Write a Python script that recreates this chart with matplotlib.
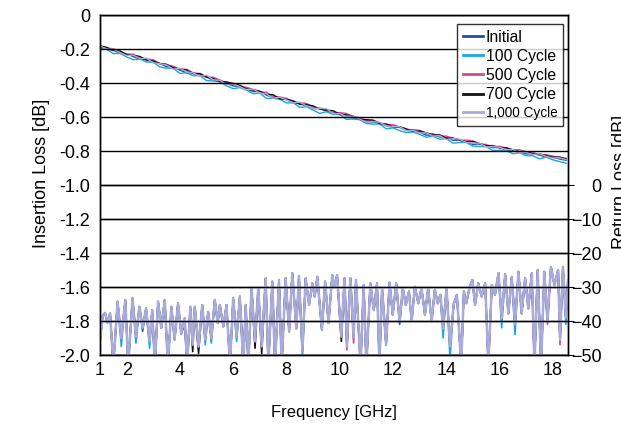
import numpy as np
import matplotlib.pyplot as plt

plt.rcParams['font.family'] = ['Liberation Sans', 'DejaVu Sans']

# insertion loss, sampled every 0.25 GHz from 1 to 18.5 GHz
il_freq = np.linspace(1.0, 18.5, 71)

il_initial = [
    -0.186, -0.200, -0.206, -0.226, -0.229, -0.244, -0.261, -0.261, -0.280, -0.286,
    -0.304, -0.305, -0.324, -0.340, -0.341, -0.357, -0.364, -0.384, -0.385, -0.403,
    -0.417, -0.420, -0.434, -0.450, -0.451, -0.471, -0.487, -0.489, -0.498, -0.518,
    -0.521, -0.536, -0.551, -0.550, -0.564, -0.578, -0.576, -0.597, -0.604, -0.609,
    -0.628, -0.629, -0.635, -0.652, -0.660, -0.661, -0.679, -0.683, -0.689, -0.707,
    -0.706, -0.717, -0.720, -0.737, -0.737, -0.749, -0.761, -0.758, -0.769, -0.780,
    -0.779, -0.795, -0.796, -0.806, -0.817, -0.816, -0.824, -0.836, -0.836, -0.847,
    -0.855]
il_100 = [
    -0.197, -0.201, -0.227, -0.226, -0.246, -0.263, -0.259, -0.277, -0.277, -0.306,
    -0.313, -0.313, -0.344, -0.339, -0.357, -0.357, -0.386, -0.388, -0.393, -0.417,
    -0.433, -0.427, -0.442, -0.463, -0.459, -0.491, -0.490, -0.496, -0.517, -0.516,
    -0.543, -0.540, -0.559, -0.579, -0.569, -0.585, -0.586, -0.614, -0.612, -0.616,
    -0.638, -0.642, -0.641, -0.670, -0.664, -0.680, -0.692, -0.688, -0.702, -0.719,
    -0.713, -0.731, -0.727, -0.754, -0.750, -0.749, -0.772, -0.773, -0.774, -0.797,
    -0.796, -0.796, -0.816, -0.811, -0.827, -0.828, -0.846, -0.836, -0.852, -0.862,
    -0.872]
il_500 = [
    -0.179, -0.195, -0.199, -0.214, -0.230, -0.231, -0.251, -0.257, -0.264, -0.287,
    -0.293, -0.301, -0.322, -0.319, -0.340, -0.347, -0.365, -0.366, -0.382, -0.398,
    -0.401, -0.423, -0.425, -0.439, -0.453, -0.455, -0.479, -0.482, -0.490, -0.511,
    -0.516, -0.520, -0.542, -0.548, -0.554, -0.574, -0.574, -0.579, -0.599, -0.604,
    -0.620, -0.619, -0.633, -0.646, -0.645, -0.659, -0.674, -0.674, -0.678, -0.696,
    -0.699, -0.714, -0.712, -0.725, -0.737, -0.736, -0.740, -0.757, -0.762, -0.775,
    -0.772, -0.782, -0.794, -0.792, -0.807, -0.809, -0.822, -0.821, -0.830, -0.841,
    -0.843]
il_700 = [
    -0.183, -0.190, -0.209, -0.211, -0.233, -0.237, -0.244, -0.266, -0.270, -0.285,
    -0.290, -0.312, -0.316, -0.324, -0.345, -0.344, -0.365, -0.373, -0.392, -0.393,
    -0.405, -0.413, -0.435, -0.440, -0.448, -0.467, -0.469, -0.493, -0.496, -0.505,
    -0.525, -0.527, -0.535, -0.553, -0.560, -0.563, -0.584, -0.587, -0.594, -0.614,
    -0.616, -0.619, -0.639, -0.641, -0.656, -0.657, -0.670, -0.684, -0.683, -0.693,
    -0.706, -0.705, -0.725, -0.724, -0.734, -0.746, -0.745, -0.757, -0.770, -0.768,
    -0.782, -0.781, -0.793, -0.804, -0.803, -0.817, -0.817, -0.827, -0.837, -0.835,
    -0.847]
il_1000 = [
    -0.182, -0.200, -0.202, -0.221, -0.238, -0.236, -0.256, -0.255, -0.281, -0.286,
    -0.294, -0.319, -0.313, -0.334, -0.341, -0.361, -0.354, -0.381, -0.385, -0.408,
    -0.404, -0.422, -0.439, -0.436, -0.459, -0.464, -0.490, -0.484, -0.499, -0.517,
    -0.513, -0.535, -0.550, -0.549, -0.551, -0.580, -0.580, -0.597, -0.594, -0.613,
    -0.629, -0.626, -0.632, -0.651, -0.657, -0.657, -0.680, -0.680, -0.693, -0.693,
    -0.712, -0.710, -0.732, -0.727, -0.731, -0.750, -0.753, -0.754, -0.776, -0.773,
    -0.778, -0.792, -0.791, -0.809, -0.809, -0.821, -0.816, -0.832, -0.841, -0.840,
    -0.851]

# return loss: peaks and dips (1,000 Cycle trace)
rl_freq = [
    1.00, 1.10, 1.19, 1.28, 1.38, 1.50, 1.66, 1.80, 1.95, 2.06,
    2.22, 2.35, 2.48, 2.60, 2.73, 2.86, 2.96, 3.06, 3.18, 3.30,
    3.43, 3.55, 3.68, 3.80, 3.93, 4.05, 4.18, 4.27, 4.39, 4.48,
    4.56, 4.70, 4.84, 4.95, 5.06, 5.18, 5.31, 5.42, 5.50, 5.63,
    5.75, 5.88, 6.00, 6.13, 6.25, 6.38, 6.47, 6.57, 6.69, 6.82,
    6.94, 7.07, 7.22, 7.32, 7.47, 7.57, 7.72, 7.82, 7.97, 8.10,
    8.22, 8.37, 8.47, 8.60, 8.72, 8.85, 8.97, 9.06, 9.16, 9.33,
    9.45, 9.58, 9.72, 9.80, 9.90, 10.06, 10.18, 10.27, 10.40, 10.52,
    10.61, 10.78, 10.90, 11.00, 11.15, 11.28, 11.40, 11.49, 11.59, 11.74,
    11.87, 11.99, 12.12, 12.25, 12.37, 12.48, 12.60, 12.70, 12.82, 12.95,
    13.07, 13.20, 13.32, 13.45, 13.57, 13.68, 13.78, 13.88, 14.01, 14.14,
    14.28, 14.40, 14.56, 14.66, 14.75, 14.88, 14.98, 15.08, 15.20, 15.33,
    15.46, 15.58, 15.71, 15.83, 15.96, 16.08, 16.21, 16.33, 16.46, 16.58,
    16.71, 16.83, 16.96, 17.08, 17.21, 17.31, 17.43, 17.56, 17.68, 17.80,
    17.93, 18.06, 18.20, 18.27, 18.38, 18.49, 18.57]
rl_1000 = [
    -46.0, -38.5, -37.6, -40.5, -37.8, -53.0, -34.3, -45.0, -33.8, -53.0,
    -33.3, -44.6, -35.8, -42.0, -36.3, -46.0, -36.8, -53.0, -34.3, -42.0,
    -33.8, -53.0, -35.8, -45.5, -34.8, -43.7, -39.2, -53.0, -35.8, -47.0,
    -35.8, -47.5, -35.3, -45.5, -37.3, -45.0, -33.8, -40.6, -35.3, -41.6,
    -35.3, -53.0, -33.3, -44.6, -32.8, -53.0, -35.3, -53.0, -30.3, -46.0,
    -30.3, -47.5, -27.4, -53.0, -28.4, -53.0, -27.9, -53.0, -27.4, -43.1,
    -25.9, -42.2, -26.7, -49.0, -27.4, -35.3, -28.9, -32.8, -27.0, -42.6,
    -28.4, -40.6, -26.5, -30.0, -26.5, -44.6, -27.4, -47.5, -27.4, -44.6,
    -27.9, -53.0, -29.4, -53.0, -28.9, -36.8, -28.9, -53.0, -30.3, -47.0,
    -28.7, -38.2, -28.9, -40.1, -30.3, -35.3, -31.3, -40.1, -29.9, -34.8,
    -30.3, -38.2, -30.3, -40.1, -30.8, -34.8, -32.3, -42.2, -30.3, -47.5,
    -35.0, -32.3, -53.0, -31.3, -34.8, -29.9, -27.9, -35.3, -28.9, -32.8,
    -28.9, -53.0, -29.4, -32.3, -25.9, -39.2, -26.2, -37.8, -27.0, -40.9,
    -25.5, -37.8, -27.4, -36.3, -25.9, -53.0, -25.0, -53.0, -25.5, -39.7,
    -24.1, -29.4, -25.0, -45.5, -24.1, -39.0, -28.0]

# the other traces follow 1,000 Cycle except where their dips go deeper
rl_initial_dips = {2.60: -43.0, 12.25: -41.0}
rl_100_dips = {1.80: -47.5, 2.35: -46.5, 2.86: -48.0, 4.95: -47.0, 5.18: -46.5,
               6.13: -46.0, 8.60: -51.0, 13.88: -45.0, 14.14: -51.0,
               16.08: -42.0, 16.58: -44.0, 18.49: -41.0}
rl_500_dips = {10.27: -48.5, 10.52: -46.5, 14.56: -53.0, 17.80: -41.0, 18.27: -47.0}
rl_700_dips = {4.18: -41.0, 4.48: -49.0, 4.70: -49.5, 6.82: -48.0, 7.07: -49.5,
               10.06: -46.0, 17.31: -53.0}

labels = ['Initial', '100 Cycle', '500 Cycle', '700 Cycle', '1,000 Cycle']
colors = ['#1f4ea8', '#1aa6e4', '#d8488c', '#111111', '#a9acd8']


def with_dips(base, dips):
    vals = list(base)
    for i, f in enumerate(rl_freq):
        if f in dips:
            vals[i] = dips[f]
    return vals


il_series = [il_initial, il_100, il_500, il_700, il_1000]
rl_series = [with_dips(rl_1000, rl_initial_dips), with_dips(rl_1000, rl_100_dips),
             with_dips(rl_1000, rl_500_dips), with_dips(rl_1000, rl_700_dips),
             rl_1000]

fig = plt.figure(figsize=(6.21, 4.24), dpi=100)
ax = fig.add_axes([100 / 621, 69 / 424, 468 / 621, 340 / 424])
ax2 = ax.twinx()

handles = []
for vals, lab, col in zip(il_series, labels, colors):
    h, = ax.plot(il_freq, vals, color=col, lw=1.0, label=lab)
    handles.append(h)

for vals, col in zip(rl_series, colors):
    lw = 1.8 if col == colors[-1] else 1.2
    ax2.plot(rl_freq, vals, color=col, lw=lw)

ax.set_xlim(1, 18.57)
ax.set_ylim(-2.0, 0)
yt = np.arange(-2.0, 0.01, 0.2)
ax.set_yticks(yt)
ax.set_yticklabels([f'{v:.1f}' if abs(v) > 1e-9 else '0' for v in yt])
ax.set_xticks([1, 2, 4, 6, 8, 10, 12, 14, 16, 18])
ax.tick_params(axis='both', length=0, labelsize=13)
ax.tick_params(axis='y', pad=7)
ax.tick_params(axis='x', pad=5)

ax2.set_ylim(-50, 50)
ax2.set_yticks([0, -10, -20, -30, -40, -50])
ax2.tick_params(axis='y', length=4, direction='out', labelsize=13, pad=20)
for t in ax2.get_yticklabels():
    t.set_ha('right')

ax.grid(axis='y', color='black', lw=1.0)
ax2.grid(axis='y', color='black', lw=1.0)
ax.set_axisbelow(False)
ax2.set_axisbelow(False)
for a in (ax, ax2):
    for s in a.spines.values():
        s.set_color('black')
        s.set_linewidth(1.0)

ax.set_xlabel('Frequency [GHz]', fontsize=12)
ax.xaxis.set_label_coords(0.5, -0.148)
ax.set_ylabel('Insertion Loss [dB]', fontsize=13)
ax.yaxis.set_label_coords(-0.124, 0.535)
ax.yaxis.label.set_va('center')
fig.text(612 / 621, 1 - 182 / 424, 'Return Loss [dB]', rotation=90,
         ha='left', va='center', fontsize=13)

leg = ax2.legend(handles=handles, loc='upper right',
                 bbox_to_anchor=(0.989, 0.9735), borderaxespad=0,
                 fontsize=11.3, frameon=True, fancybox=False,
                 handlelength=1.3, handletextpad=0.15, labelspacing=0.27,
                 borderpad=0.35)
leg.get_frame().set_edgecolor('black')
leg.get_frame().set_linewidth(1.0)
for line in leg.get_lines():
    line.set_linewidth(2.0)
leg.get_texts()[-1].set_fontsize(9.8)

fig.savefig('out.png', dpi=100)
